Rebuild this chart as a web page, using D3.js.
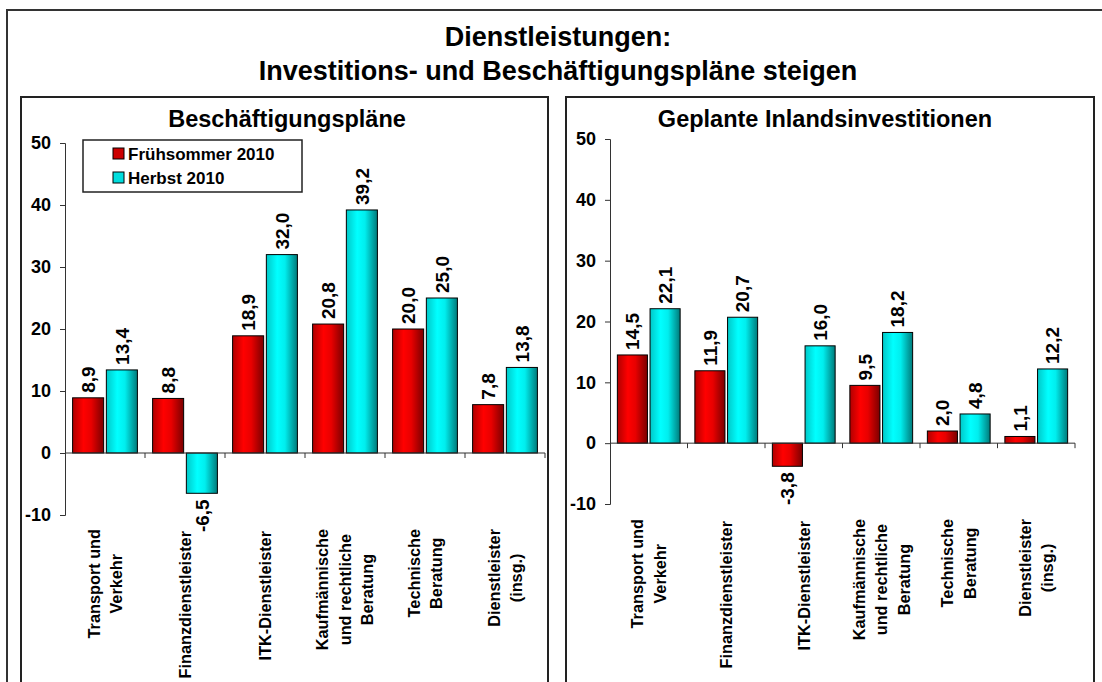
<!DOCTYPE html>
<html><head><meta charset="utf-8">
<script src="https://cdn.jsdelivr.net/npm/d3@7"></script>
<style>
html,body{margin:0;padding:0;background:#fff;}
svg{display:block;font-family:"Liberation Sans",Arial,sans-serif;font-weight:bold;}
</style></head>
<body>
<svg id="chart" width="1102" height="682"></svg>
<script>
const categories = [
  ["Transport und","Verkehr"],
  ["Finanzdienstleister"],
  ["ITK-Dienstleister"],
  ["Kaufmännische","und rechtliche","Beratung"],
  ["Technische","Beratung"],
  ["Dienstleister","(insg.)"]
];
const seriesNames = ["Frühsommer 2010","Herbst 2010"];
const jobsEarly  = [8.9, 8.8, 18.9, 20.8, 20.0, 7.8];
const jobsAutumn = [13.4, -6.5, 32.0, 39.2, 25.0, 13.8];
const invEarly   = [14.5, 11.9, -3.8, 9.5, 2.0, 1.1];
const invAutumn  = [22.1, 20.7, 16.0, 18.2, 4.8, 12.2];
const yTicks = [-10, 0, 10, 20, 30, 40, 50];
const title = ["Dienstleistungen:", "Investitions- und Beschäftigungspläne steigen"];
const panelTitles = ["Beschäftigungspläne", "Geplante Inlandsinvestitionen"];

const svg = d3.select("#chart");
const defs = svg.append("defs");
function grad(id, stops){
  const g = defs.append("linearGradient").attr("id", id).attr("x1","0").attr("x2","1").attr("y1","0").attr("y2","0");
  stops.forEach(s => g.append("stop").attr("offset", s[0]).attr("stop-color", s[1]));
}
grad("gRed", [[0,"#b00000"],[0.35,"#ff0000"],[0.6,"#e80000"],[1,"#7a0000"]]);
grad("gCyan", [[0,"#00c8c8"],[0.35,"#00ffff"],[0.6,"#00eeee"],[1,"#007a7a"]]);
const fills = ["url(#gRed)","url(#gCyan)"];
const legendFills = ["#cc0000","#00dddd"];

// outer frame
svg.append("rect").attr("x",7).attr("y",10).attr("width",1110).attr("height",700)
  .attr("fill","none").attr("stroke","#333").attr("stroke-width",2);

svg.selectAll("text.title").data(title).join("text")
  .attr("x", 558).attr("y", (d,i)=> 46 + i*34)
  .attr("text-anchor","middle").attr("font-size", 27).attr("fill","#000")
  .text(d=>d);

const fmt = v => d3.format(".1f")(v).replace(".", ",").replace("\u2212","-");

function panel(cfg){
  const g = svg.append("g");
  g.append("rect").attr("x",cfg.px).attr("y",97).attr("width",cfg.pw).attr("height",700)
    .attr("fill","none").attr("stroke","#222").attr("stroke-width",2);
  g.append("text").attr("x", cfg.titleX).attr("y", 127).attr("text-anchor","middle")
    .attr("font-size", 23.5).text(cfg.title);

  const y = d3.scaleLinear().domain([-10,50]).range([cfg.y0, cfg.y1]);
  const x0 = d3.scaleBand().domain(d3.range(categories.length)).range([cfg.xa, cfg.xb])
    .paddingInner(0.19).paddingOuter(0.095);
  const x1 = d3.scaleBand().domain([0,1]).range([0, x0.bandwidth()]).paddingInner(0.08);

  // y axis
  const ya = d3.axisLeft(y).tickValues(yTicks).tickSize(5).tickPadding(9).tickFormat(d=>d);
  const yg = g.append("g").attr("transform",`translate(${cfg.xa},0)`).call(ya);
  yg.select(".domain").attr("stroke","#333");
  yg.selectAll(".tick line").attr("stroke","#333");
  yg.selectAll(".tick text").attr("font-size",18).attr("font-weight","bold")
    .attr("font-family","'Liberation Sans',Arial,sans-serif").attr("fill","#000");

  // bars
  const data = [];
  cfg.series.forEach((s,si)=> s.forEach((v,ci)=> data.push({ci,si,v})));
  g.selectAll("rect.bar").data(data).join("rect")
    .attr("x", d=> x0(d.ci) + x1(d.si))
    .attr("width", x1.bandwidth())
    .attr("y", d=> y(Math.max(0,d.v)))
    .attr("height", d=> Math.abs(y(d.v) - y(0)))
    .attr("fill", d=> fills[d.si]).attr("stroke","#000").attr("stroke-width",1);

  // x axis line at 0 with boundary ticks
  g.append("line").attr("x1",cfg.xa).attr("x2",cfg.xb).attr("y1",y(0)).attr("y2",y(0))
    .attr("stroke","#333").attr("stroke-width",1);
  const step = x0.step();
  g.selectAll("line.xt").data(d3.range(categories.length)).join("line")
    .attr("x1", d=> x0(d) + x0.bandwidth() + step*x0.paddingInner()/2)
    .attr("x2", d=> x0(d) + x0.bandwidth() + step*x0.paddingInner()/2)
    .attr("y1", y(0)).attr("y2", y(0)+5).attr("stroke","#333");

  // data labels
  g.selectAll("text.val").data(data).join("text")
    .attr("transform", d=> {
      const cx = x0(d.ci) + x1(d.si) + x1.bandwidth()/2;
      const yy = d.v >= 0 ? y(d.v) - 5 : y(d.v) + 6;
      return `translate(${cx},${yy}) rotate(-90)`;
    })
    .attr("dy","0.36em")
    .attr("text-anchor", d=> d.v>=0 ? "start" : "end")
    .attr("font-size", 19).text(d=> fmt(d.v));

  // category labels
  const lbl = g.selectAll("g.cat").data(categories).join("g")
    .attr("transform",(d,i)=> `translate(${x0(i) + x0.bandwidth()/2},${cfg.labelTop})`);
  lbl.each(function(lines){
    const gg = d3.select(this);
    const t = gg.selectAll("text").data(lines).join("text")
      .attr("font-size",16.3).text(d=>d);
    let maxLen = 0;
    t.each(function(){ maxLen = Math.max(maxLen, this.getComputedTextLength()); });
    const n = lines.length, lh = 22.5;
    const top = n === 1 ? 2 : 0;
    t.attr("text-anchor","middle").attr("dy","0.36em")
      .attr("transform",(d,j)=> `translate(${(j-(n-1)/2)*lh},${top + maxLen/2}) rotate(-90)`);
  });

  if (cfg.legend){
    const lg = g.append("g");
    lg.append("rect").attr("x",83).attr("y",140).attr("width",219).attr("height",52)
      .attr("fill","#fff").attr("stroke","#222").attr("stroke-width",1.5);
    seriesNames.forEach((s,i)=>{
      lg.append("rect").attr("x",113).attr("y",148+i*24).attr("width",11).attr("height",11)
        .attr("fill",legendFills[i]).attr("stroke","#000");
      lg.append("text").attr("x",128).attr("y",159.5+i*24).attr("font-size",17).text(s);
    });
  }
}

panel({px:21, pw:527, title:panelTitles[0], titleX:287, y0:515, y1:143, xa:65, xb:545,
  labelTop:529, series:[jobsEarly, jobsAutumn], legend:true});
panel({px:566, pw:528, title:panelTitles[1], titleX:825, y0:504, y1:139, xa:610, xb:1075,
  labelTop:519, series:[invEarly, invAutumn], legend:false});
</script>
</body></html>
